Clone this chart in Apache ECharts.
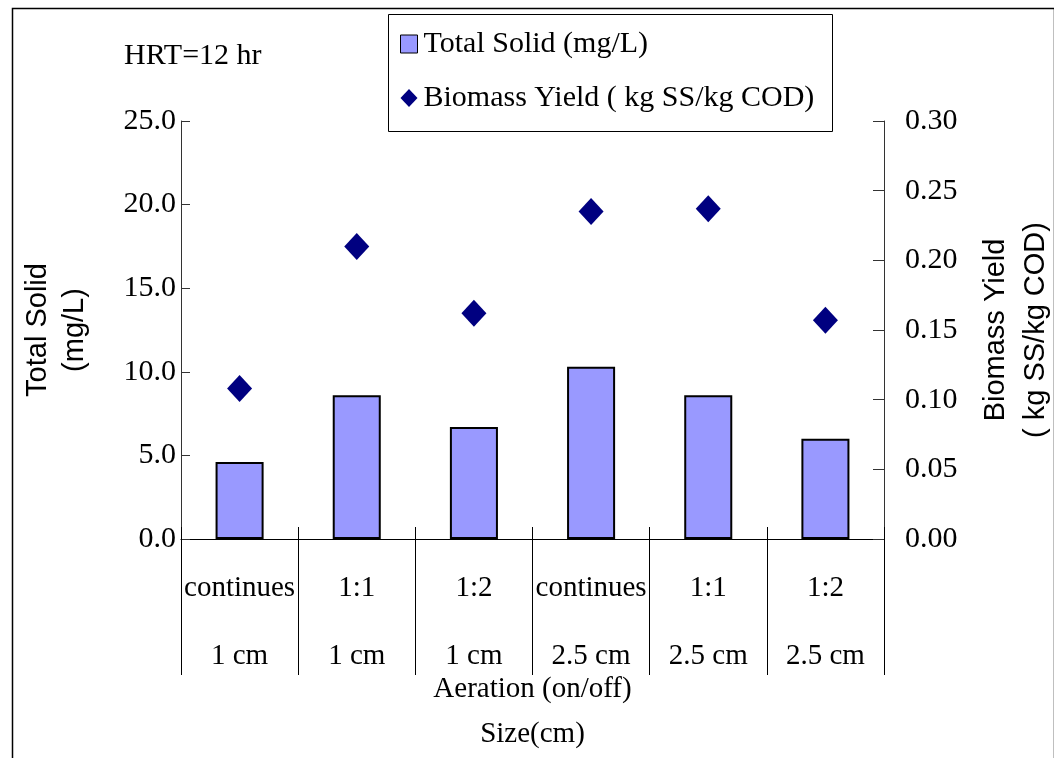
<!DOCTYPE html>
<html>
<head>
<meta charset="utf-8">
<script src="https://cdn.jsdelivr.net/npm/echarts@6/dist/echarts.min.js"></script>
<style>
html,body{margin:0;padding:0;background:#fff;}
#chart{width:1054px;height:758px;}
</style>
</head>
<body>
<div id="chart"></div>
<script>
const aeration = ['continues', '1:1', '1:2', 'continues', '1:1', '1:2'];
const sizes = ['1 cm', '1 cm', '1 cm', '2.5 cm', '2.5 cm', '2.5 cm'];
const totalSolid = [4.6, 8.6, 6.7, 10.3, 8.6, 6.0];
const biomassYield = [0.108, 0.210, 0.162, 0.235, 0.237, 0.157];
const seriesNames = ['Total Solid (mg/L)', 'Biomass Yield ( kg SS/kg COD)'];
const categories = aeration.map((a, i) => a + '\n' + sizes[i]);

const SERIF = '"Liberation Serif", "Times New Roman", serif';
const SANS = '"Liberation Sans", Arial, sans-serif';

const chart = echarts.init(document.getElementById('chart'), null, {renderer: 'canvas'});
chart.setOption({
  animation: false,
  backgroundColor: '#fff',
  graphic: [
    {type: 'rect', left: 10, top: 6, shape: {x: 0, y: 0, width: 1042, height: 800},
     style: {fill: 'none', stroke: '#000', lineWidth: 1.5}, z: 0, silent: true},
    {type: 'rect', left: 388, top: 14, shape: {x: 0, y: 0, width: 444, height: 117},
     style: {fill: '#fff', stroke: '#000', lineWidth: 1}, z: 1, silent: true}
  ],
  title: {
    text: 'HRT=12 hr', left: 124, top: 41, padding: 0,
    textStyle: {fontFamily: SERIF, fontSize: 30, fontWeight: 'normal', color: '#000'}
  },
  legend: {
    orient: 'vertical', left: 400, top: 29, padding: 0, itemGap: 24,
    itemWidth: 17, itemHeight: 18,
    textStyle: {fontFamily: SERIF, fontSize: 30, color: '#000', padding: [0, 0, 0, 1]},
    data: [
      {name: seriesNames[0], icon: 'rect', itemStyle: {borderWidth: 1, borderColor: '#000'}},
      {name: seriesNames[1], icon: 'diamond', itemStyle: {opacity: 1}}
    ],
    z: 5
  },
  grid: {left: 181, right: 170, top: 121, bottom: 219, containLabel: false, outerBoundsMode: 'none'},
  xAxis: [
    {
      type: 'category', data: categories, boundaryGap: true,
      axisLine: {show: true, lineStyle: {color: '#000', width: 1}},
      axisTick: {show: true, interval: 0, inside: false, length: 136, lineStyle: {color: '#000', width: 1}},
      axisLabel: {interval: 0, margin: 15, fontFamily: SERIF, fontSize: 29, color: '#000', lineHeight: 68},
      name: 'Aeration (on/off)\nSize(cm)', nameLocation: 'middle', nameGap: 128, nameMoveOverlap: false,
      nameTextStyle: {fontFamily: SERIF, fontSize: 29, color: '#000', lineHeight: 45}
    },
    {
      type: 'category', data: categories, boundaryGap: true, position: 'bottom',
      axisLine: {show: false},
      axisTick: {show: true, interval: 0, inside: true, length: 12, lineStyle: {color: '#000', width: 1}},
      axisLabel: {show: false}
    }
  ],
  yAxis: [
    {
      type: 'value', min: 0, max: 25, interval: 5,
      axisLine: {show: true, lineStyle: {color: '#333', width: 1}},
      axisTick: {show: true, inside: true, length: 9, lineStyle: {color: '#333'}},
      splitLine: {show: false},
      axisLabel: {margin: 5, fontFamily: SERIF, fontSize: 30, color: '#000', formatter: v => v.toFixed(1)},
      name: 'Total Solid\n(mg/L)', nameLocation: 'middle', nameRotate: 90, nameGap: 88, nameMoveOverlap: false,
      nameTextStyle: {fontFamily: SANS, fontSize: 29, color: '#000', lineHeight: 37}
    },
    {
      type: 'value', min: 0, max: 0.3, interval: 0.05, position: 'right',
      axisLine: {show: true, lineStyle: {color: '#333', width: 1}},
      axisTick: {show: true, inside: true, length: 11, lineStyle: {color: '#333'}},
      splitLine: {show: false},
      axisLabel: {margin: 21, fontFamily: SERIF, fontSize: 30, color: '#000', formatter: v => v.toFixed(2)},
      name: 'Biomass Yield\n( kg SS/kg COD)', nameLocation: 'middle', nameRotate: 90, nameGap: 92, nameMoveOverlap: false,
      nameTextStyle: {fontFamily: SANS, fontSize: 29, color: '#000', lineHeight: 40}
    }
  ],
  series: [
    {
      name: seriesNames[0], type: 'bar', data: totalSolid, xAxisIndex: 0, yAxisIndex: 0,
      barWidth: '41%',
      itemStyle: {color: '#9999FF', borderColor: '#000', borderWidth: 2}
    },
    {
      name: seriesNames[1], type: 'scatter', data: biomassYield, xAxisIndex: 0, yAxisIndex: 1,
      symbol: 'diamond', symbolSize: [25, 27],
      itemStyle: {color: '#000080', opacity: 1}
    }
  ]
});
</script>
</body>
</html>
